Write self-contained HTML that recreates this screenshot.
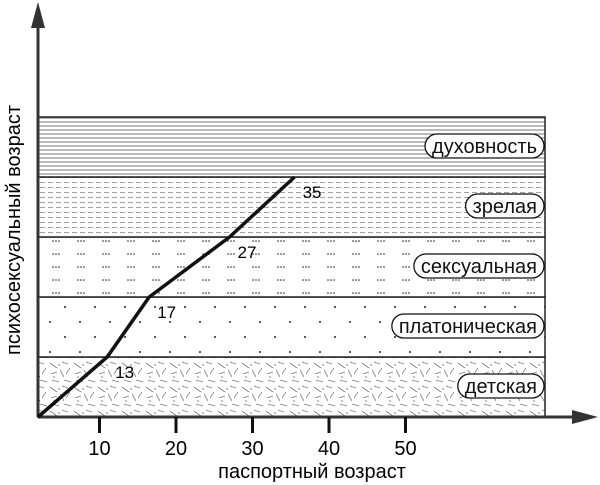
<!DOCTYPE html>
<html><head><meta charset="utf-8"><style>
body{margin:0;background:#fff}
svg{display:block;font-family:"Liberation Sans",sans-serif}
</style></head><body>
<svg id="c" width="600" height="485" viewBox="0 0 600 485">
<defs>
<pattern id="pH" width="6" height="4" patternUnits="userSpaceOnUse"><rect width="6" height="4" fill="#fff"/><line x1="0" y1="2" x2="6" y2="2" stroke="#666" stroke-width="0.9"/></pattern>
<pattern id="pD" width="8" height="5" patternUnits="userSpaceOnUse"><rect width="8" height="5" fill="#fff"/><line x1="0" y1="2.5" x2="5" y2="2.5" stroke="#888" stroke-width="0.8"/></pattern>
<pattern id="pS" width="25" height="13" patternUnits="userSpaceOnUse"><rect width="25" height="13" fill="#fff"/><circle cx="3" cy="7" r="0.8" fill="#222"/><circle cx="6" cy="7" r="0.8" fill="#222"/><circle cx="9" cy="7" r="0.8" fill="#222"/></pattern>
<pattern id="pP" width="30" height="30" patternUnits="userSpaceOnUse"><rect width="30" height="30" fill="#fff"/><circle cx="5" cy="7" r="1" fill="#222"/><circle cx="20" cy="22" r="1" fill="#222"/></pattern>
<pattern id="pK" width="24" height="24" patternUnits="userSpaceOnUse"><rect width="24" height="24" fill="#fff"/><g stroke="#444" stroke-width="0.6"><line x1="2" y1="3" x2="9" y2="8"/><line x1="14" y1="2" x2="20" y2="4"/><line x1="12" y1="10" x2="16" y2="17"/><line x1="3" y1="14" x2="9" y2="12"/><line x1="18" y1="14" x2="22" y2="8"/><line x1="4" y1="20" x2="11" y2="22"/><line x1="16" y1="20" x2="23" y2="22"/></g><circle cx="11" cy="5" r="0.6" fill="#222"/><circle cx="6" cy="17" r="0.6" fill="#222"/></pattern>
</defs>
</svg>
<script>
const bandNames=["детская","платоническая","сексуальная","зрелая","духовность"];
const bandFills=["url(#pK)","url(#pP)","url(#pS)","url(#pD)","url(#pH)"];
const xTicks=[10,20,30,40,50];
const lineAges=[1.9,11,16.5,27,35.5];
const lineLevels=[0,1,2,3,4];
const pointLabels=["","13","17","27","35"];
const NS="http://www.w3.org/2000/svg",svg=document.getElementById('c');
const X=a=>23+7.65*a, Y=l=>417-l*60;
function el(t,a,p){const e=document.createElementNS(NS,t);for(const k in a)e.setAttribute(k,a[k]);(p||svg).appendChild(e);return e;}
bandNames.forEach((n,i)=>{
 const r=el('rect',{x:38,y:Y(i+1),width:507,height:60,fill:bandFills[i],stroke:'#222','stroke-width':1.5});
 
 
 const b=el('rect',{x:0,y:Y(i)-43,width:10,height:24,rx:12,fill:'#fff',stroke:'#111','stroke-width':1.3});
 
 
 const t=el('text',{x:537,y:Y(i)-24,'text-anchor':'end','font-size':20,fill:'#111'});t.textContent=n;
 
 
 const w=t.getComputedTextLength()+14;
 b.setAttribute('x',544-w);b.setAttribute('width',w);
});
const ya=el('line',{x1:38,y1:417,x2:38,y2:25,stroke:'#333','stroke-width':3});


el('polygon',{points:'31,28 45,28 38,2',fill:'#333'});
const xa=el('line',{x1:38,y1:417,x2:575,y2:417,stroke:'#333','stroke-width':3});


el('polygon',{points:'572,410 572,424 598,417',fill:'#333'});
xTicks.forEach(v=>{
 el('line',{x1:X(v),y1:417,x2:X(v),y2:433,stroke:'#111','stroke-width':3});
 const t=el('text',{x:X(v),y:455,'text-anchor':'middle','font-size':20});t.textContent=v;
 
 
});
const xt=el('text',{x:312,y:478,'text-anchor':'middle','font-size':20});xt.textContent='паспортный возраст';


const yt=el('text',{x:0,y:0,'text-anchor':'middle','font-size':20,transform:'translate(20,230) rotate(-90)'});yt.textContent='психосексуальный возраст';


const pts=lineAges.map((a,i)=>X(a)+','+Y(lineLevels[i]));
pts[0]='38,417';
const pl=el('polyline',{points:pts.join(' '),fill:'none',stroke:'#111','stroke-width':3.5,'stroke-linejoin':'round'});


pointLabels.forEach((s,i)=>{if(!s)return;
 const t=el('text',{x:X(lineAges[i])+8,y:Y(lineLevels[i])+21,'font-size':17});t.textContent=s;
 
 
});
</script>
</body></html>
